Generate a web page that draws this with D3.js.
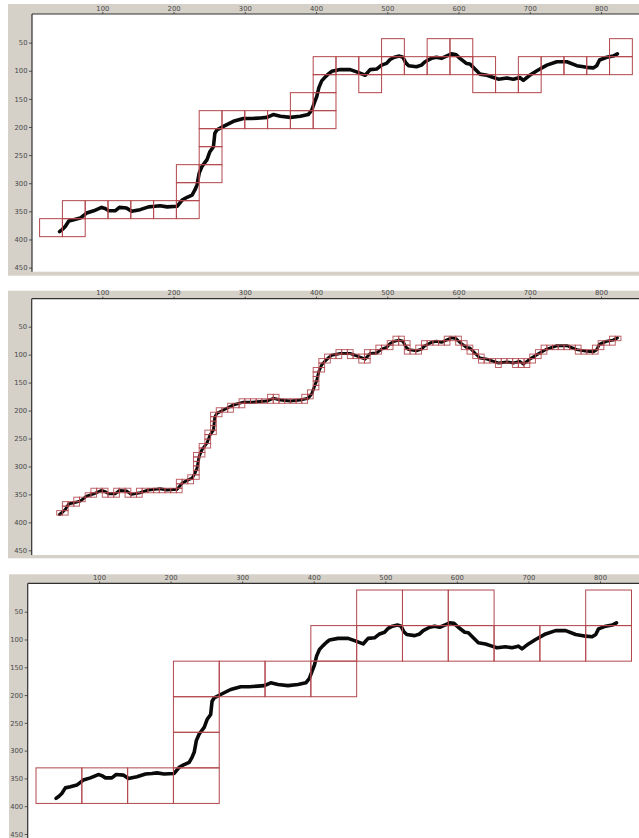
<!DOCTYPE html>
<html>
<head>
<meta charset="utf-8">
<script src="https://cdn.jsdelivr.net/npm/d3@7"></script>
<style>
  html, body { margin: 0; padding: 0; background: #ffffff; }
  svg { display: block; }
</style>
</head>
<body>
<svg id="chart" width="639" height="838"></svg>
<script>
const traceX = [40,44,48,53,60,69,78,88,99,104,
  109,118,124,134,141,153,165,174,181,191,
  205,212,219,226,230,233,236,240,247,251,
  256,258,261,270,284,298,310,322,331,340,
  350,364,378,389,394,398,401,404,408,413,
  418,422,434,448,459,469,476,485,492,499,
  504,510,517,522,526,530,541,548,553,562,
  569,576,583,590,596,602,611,616,623,630,
  640,649,656,668,677,686,691,700,710,724,
  738,752,766,780,789,794,798,808,817,823];
const traceY = [386,382,377,367,365,362,353,349,343,345,
  349,349,343,344,350,347,342,341,340,342,
  341,330,325,321,312,303,282,270,258,244,
  235,211,205,199,190,185,185,184,183,178,
  181,183,181,178,170,156,146,130,118,111,
  105,101,98,98,103,108,98,97,90,87,
  80,76,74,76,86,91,93,90,84,78,
  76,78,74,70,71,78,87,88,97,106,
  108,112,115,113,115,112,117,108,100,90,
  84,84,91,94,95,91,81,76,74,70];

// Axis tick values
const xTicks = [100, 200, 300, 400, 500, 600, 700, 800];
const yTicks = [50, 100, 150, 200, 250, 300, 350, 400, 450];

// Box-counting grids: box size and grid origin (same units as the trace)
const boxSizes = [32, 8, 64];
const gridOrigin = [12, 11];

// Occupied boxes of the 32-unit grid, [column, row]
const boxes32 = [
  [0,11],[1,10],[1,11],[2,10],[3,10],[4,10],[5,10],
  [6,8],[6,9],[6,10],[7,5],[7,6],[7,7],[7,8],
  [8,5],[9,5],[10,5],[11,4],[11,5],
  [12,2],[12,3],[12,4],[12,5],[13,2],[14,2],[14,3],
  [15,1],[15,2],[16,2],[17,1],[17,2],[18,1],[18,2],
  [19,2],[19,3],[20,3],[21,2],[21,3],[22,2],[23,2],[24,2],
  [25,1],[25,2]
];
// Occupied boxes of the 64-unit grid, [column, row]
const boxes64 = [
  [0,5],[1,5],[2,5],[3,2],[3,3],[3,4],[3,5],
  [4,2],[5,2],[6,1],[6,2],[7,0],[7,1],[8,0],[8,1],
  [9,0],[9,1],[10,1],[11,1],[12,0],[12,1]
];

const trace = traceX.map((x, i) => [x, traceY[i]]);

// Boxes of the fine grid touched by the trace
function touchedBoxes(size) {
  const seen = new Set();
  const out = [];
  const mark = (x, y) => {
    const c = Math.floor((x - gridOrigin[0]) / size);
    const r = Math.floor((y - gridOrigin[1]) / size);
    const k = c + "," + r;
    if (!seen.has(k)) { seen.add(k); out.push([c, r]); }
  };
  for (let i = 0; i < trace.length - 1; i++) {
    const [x0, y0] = trace[i], [x1, y1] = trace[i + 1];
    const n = Math.ceil(Math.hypot(x1 - x0, y1 - y0) / 0.25);
    for (let s = 0; s <= n; s++) {
      const t = s / n;
      mark(x0 + (x1 - x0) * t, y0 + (y1 - y0) * t);
    }
  }
  return out;
}
const boxes8 = touchedBoxes(boxSizes[1]);

// Panel frames (grey window area) and axis calibration
const panels = [
  { frame: [8, 4, 639, 275.7], plot: [32, 14, 700, 271.7],
    xr: [102.3, 601], yr: [42.6, 267.6], boxes: boxes32, size: boxSizes[0], lw: 3.6 },
  { frame: [8, 290.7, 639, 558.3], plot: [31.7, 298.7, 700, 555],
    xr: [102.3, 601], yr: [326.7, 550.3], boxes: boxes8, size: boxSizes[1], lw: 3.0 },
  { frame: [9, 574.3, 639, 850], plot: [27.7, 583.4, 700, 850],
    xr: [99, 600], yr: [611.7, 834], boxes: boxes64, size: boxSizes[2], lw: 3.6 }
];

const svg = d3.select("#chart");
const defs = svg.append("defs");

panels.forEach((p, idx) => {
  const g = svg.append("g");
  const [fx, fy, fx2, fy2] = p.frame;
  const [px, py, px2, py2] = p.plot;

  g.append("rect")
    .attr("x", fx).attr("y", fy)
    .attr("width", fx2 - fx).attr("height", fy2 - fy)
    .attr("fill", "#d5d1c9");

  g.append("rect")
    .attr("x", px).attr("y", py)
    .attr("width", px2 - px).attr("height", py2 - py)
    .attr("fill", "#ffffff");

  const x = d3.scaleLinear().domain([100, 800]).range(p.xr);
  const y = d3.scaleLinear().domain([50, 450]).range(p.yr);

  const clipId = "plot-clip-" + idx;
  defs.append("clipPath").attr("id", clipId)
    .append("rect")
    .attr("x", px).attr("y", py)
    .attr("width", px2 - px).attr("height", py2 - py);

  const body = g.append("g").attr("clip-path", `url(#${clipId})`);

  // trace
  body.append("path")
    .datum(trace)
    .attr("fill", "none")
    .attr("stroke", "#0a0a0a")
    .attr("stroke-width", p.lw)
    .attr("stroke-linejoin", "round")
    .attr("stroke-linecap", "round")
    .attr("d", d3.line().x(d => x(d[0])).y(d => y(d[1])));

  // occupied boxes
  body.append("g")
    .selectAll("rect")
    .data(p.boxes)
    .join("rect")
    .attr("x", d => x(gridOrigin[0] + d[0] * p.size))
    .attr("y", d => y(gridOrigin[1] + d[1] * p.size))
    .attr("width", d => x(gridOrigin[0] + (d[0] + 1) * p.size) - x(gridOrigin[0] + d[0] * p.size))
    .attr("height", d => y(gridOrigin[1] + (d[1] + 1) * p.size) - y(gridOrigin[1] + d[1] * p.size))
    .attr("fill", "none")
    .attr("stroke", "#b2474c")
    .attr("stroke-opacity", idx === 1 ? 0.85 : 1)
    .attr("stroke-width", 1);

  // top axis
  const xAxis = d3.axisTop(x).tickValues(xTicks).tickSize(2).tickPadding(1.5);
  const gx = g.append("g")
    .attr("transform", `translate(0,${py})`)
    .call(xAxis);
  gx.select(".domain").remove();

  // left axis
  const yAxis = d3.axisLeft(y).tickValues(yTicks).tickSize(3).tickPadding(1.5);
  const gy = g.append("g")
    .attr("transform", `translate(${px},0)`)
    .call(yAxis);
  gy.select(".domain").remove();

  [gx, gy].forEach(a => {
    a.selectAll(".tick line").attr("stroke", "#555555");
    a.selectAll(".tick text")
      .attr("fill", "#4a4a4a")
      .attr("font-family", "DejaVu Sans, sans-serif")
      .attr("font-size", "6.8px");
  });

  // axis lines along the top and left of the plot
  g.append("line")
    .attr("x1", px).attr("x2", fx2)
    .attr("y1", py).attr("y2", py)
    .attr("stroke", "#303030").attr("stroke-width", 1.2);
  g.append("line")
    .attr("x1", px).attr("x2", px)
    .attr("y1", py).attr("y2", py2)
    .attr("stroke", "#303030").attr("stroke-width", 1.2);
});
</script>
</body>
</html>
